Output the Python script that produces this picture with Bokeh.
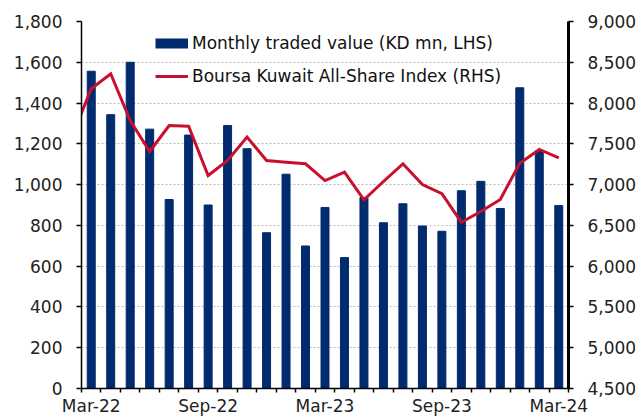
from bokeh.plotting import figure
from bokeh.models import (Range1d, LinearAxis, FixedTicker, Legend, LegendItem,
                          ColumnDataSource, NumeralTickFormatter)
from bokeh.embed import file_html
from bokeh.resources import INLINE

months = ["Mar-22", "Apr-22", "May-22", "Jun-22", "Jul-22", "Aug-22", "Sep-22",
          "Oct-22", "Nov-22", "Dec-22", "Jan-23", "Feb-23", "Mar-23", "Apr-23",
          "May-23", "Jun-23", "Jul-23", "Aug-23", "Sep-23", "Oct-23", "Nov-23",
          "Dec-23", "Jan-24", "Feb-24", "Mar-24"]
traded_value = [1556, 1343, 1600, 1272, 927, 1243, 900, 1290, 1176, 764, 1051, 699,
                888, 642, 937, 813, 906, 797, 771, 970, 1016, 883, 1475, 1165, 897]
index_months = ["Feb-22"] + months
index_values = [7580, 8175, 8359, 7786, 7406, 7725, 7716, 7112, 7296, 7582, 7296,
                7275, 7255, 7050, 7153, 6814, 7038, 7255, 7001, 6890, 6539, 6670,
                6818, 7263, 7431, 7329]
tick_labels = ["Mar-22", "Sep-22", "Mar-23", "Sep-23", "Mar-24"]
left_ticks = [0, 200, 400, 600, 800, 1000, 1200, 1400, 1600, 1800]
right_ticks = [4500, 5000, 5500, 6000, 6500, 7000, 7500, 8000, 8500, 9000]

NAVY = "#002B6E"
RED = "#C8102E"
FONT = "DejaVu Sans"
FS = "17px"

bar_x = list(range(len(months)))
line_x = list(range(-1, len(months)))
bar_src = ColumnDataSource(dict(x=bar_x, y=traded_value, m=months))
line_src = ColumnDataSource(dict(x=line_x, y=index_values, m=index_months))

p = figure(width=643, height=418, output_backend="svg", toolbar_location=None,
           x_range=Range1d(-0.5, len(months) - 0.5),
           y_range=Range1d(left_ticks[0], left_ticks[-1]),
           min_border_left=81, min_border_right=75, min_border_top=21,
           min_border_bottom=30)
p.extra_y_ranges = {"idx": Range1d(right_ticks[0], right_ticks[-1])}
p.outline_line_color = None
p.background_fill_color = "white"

bars = p.vbar(x="x", top="y", width=0.41, source=bar_src, color=NAVY)
line = p.line(x="x", y="y", source=line_src, y_range_name="idx",
              line_color=RED, line_width=3, line_join="miter")
swatch = p.line(x=[float("nan")], y=[float("nan")], line_color=NAVY, line_width=10)

# x axis
label_pos = [months.index(t) for t in tick_labels]
xa = p.xaxis[0]
xa.ticker = FixedTicker(ticks=label_pos,
                        minor_ticks=[i - 0.5 for i in range(len(months) + 1)])
xa.major_label_overrides = {pos: lab for pos, lab in zip(label_pos, tick_labels)}
xa.major_tick_out = 0
xa.major_tick_in = 0
xa.minor_tick_out = 4
xa.minor_tick_in = 0
xa.minor_tick_line_color = "black"
xa.minor_tick_line_width = 1.5
xa.axis_line_color = "black"
xa.axis_line_width = 1.5
xa.major_label_standoff = 3

# left axis
ya = p.yaxis[0]
ya.ticker = FixedTicker(ticks=left_ticks)
ya.formatter = NumeralTickFormatter(format="0,0")
ya.axis_line_width = 1.5
ya.axis_line_color = "black"
ya.major_tick_out = 5
ya.major_tick_in = 0
ya.major_tick_line_width = 1.5
ya.minor_tick_out = 0
ya.minor_tick_in = 0
ya.major_label_standoff = 14

# right axis
ra = LinearAxis(y_range_name="idx", ticker=FixedTicker(ticks=right_ticks),
                formatter=NumeralTickFormatter(format="0,0"))
ra.axis_line_width = 3
ra.axis_line_color = "black"
ra.major_tick_out = 5
ra.major_tick_in = 0
ra.major_tick_line_width = 1.5
ra.minor_tick_out = 0
ra.minor_tick_in = 0
ra.major_label_standoff = 14
p.add_layout(ra, "right")

for ax in (xa, ya, ra):
    ax.major_label_text_font = FONT
    ax.major_label_text_font_size = FS
    ax.major_label_text_color = "#222222"

p.xgrid.visible = False
p.ygrid.grid_line_color = "#BDBDBD"
p.ygrid.grid_line_dash = "2 2"
p.ygrid.grid_line_width = 1
p.ygrid.ticker = FixedTicker(ticks=left_ticks)

legend = Legend(items=[
    LegendItem(label="Monthly traded value (KD mn, LHS)", renderers=[swatch]),
    LegendItem(label="Boursa Kuwait All-Share Index (RHS)", renderers=[line]),
], location=(74, 302))
legend.margin = 0
legend.padding = 0
legend.spacing = 13
legend.glyph_width = 33
legend.glyph_height = 20
legend.label_height = 20
legend.label_standoff = 4
legend.label_text_font = FONT
legend.label_text_font_size = FS
legend.label_text_color = "#111111"
legend.background_fill_alpha = 0
legend.border_line_alpha = 0
p.add_layout(legend, "center")

open("out.html", "w").write(file_html(p, INLINE))
